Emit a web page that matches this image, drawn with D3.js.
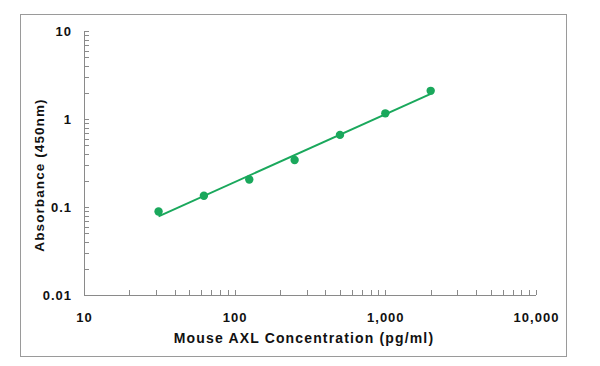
<!DOCTYPE html>
<html>
<head>
<meta charset="utf-8">
<script src="https://cdn.jsdelivr.net/npm/d3@7"></script>
<style>
  body { margin: 0; background: #fff; }
  text { font-family: Arial, "Liberation Sans", sans-serif; font-weight: bold; fill: #111; }
</style>
</head>
<body>
<div id="chart"></div>
<script>
// Standard curve data
const concentration = [31.25, 62.5, 125, 250, 500, 1000, 2000];
const absorbance = [0.089, 0.134, 0.205, 0.342, 0.66, 1.16, 2.09];
const xTicks = [10, 100, 1000, 10000];
const yTicks = [0.01, 0.1, 1, 10];

const W = 600, H = 366;
const green = "#1aa85c";

const svg = d3.select("#chart").append("svg")
  .attr("width", W).attr("height", H);

// outer frame
svg.append("rect")
  .attr("x", 20.5).attr("y", 14.5)
  .attr("width", 546).attr("height", 342)
  .attr("fill", "#fff").attr("stroke", "#9a9a9a").attr("stroke-width", 1);

const x = d3.scaleLog().domain([10, 10000]).range([84, 536]);
const y = d3.scaleLog().domain([0.01, 10]).range([295, 31]);

// minor + major tick values
const xMinor = [];
for (let d = 10; d < 10000; d *= 10) for (let k = 2; k <= 10; k++) xMinor.push(d * k);
const yMinor = [];
for (let d = 0.01; d < 10; d *= 10) for (let k = 2; k <= 10; k++) yMinor.push(+(d * k).toPrecision(3));

const axisColor = "#8a8a8a";

// x axis line and ticks (ticks point up into plot)
svg.append("line")
  .attr("x1", 84).attr("x2", 536).attr("y1", 295.5).attr("y2", 295.5)
  .attr("stroke", axisColor);
svg.append("g").selectAll("line").data(xMinor).join("line")
  .attr("x1", d => Math.round(x(d)) + 0.5).attr("x2", d => Math.round(x(d)) + 0.5)
  .attr("y1", 295).attr("y2", 290)
  .attr("stroke", axisColor);

// y axis line and ticks (ticks point right)
svg.append("line")
  .attr("x1", 84.5).attr("x2", 84.5).attr("y1", 31).attr("y2", 295.5)
  .attr("stroke", axisColor);
svg.append("g").selectAll("line").data(yMinor).join("line")
  .attr("x1", 84).attr("x2", 89)
  .attr("y1", d => Math.round(y(d)) + 0.5).attr("y2", d => Math.round(y(d)) + 0.5)
  .attr("stroke", axisColor);

// tick labels
const fmt = d3.format(",");
svg.append("g").selectAll("text").data(xTicks).join("text")
  .attr("x", d => x(d) + 0.5).attr("y", 322)
  .attr("text-anchor", "middle")
  .style("font-size", "13px").style("letter-spacing", "1px")
  .text(d => fmt(d));

svg.append("g").selectAll("text").data(yTicks).join("text")
  .attr("x", 72).attr("y", d => y(d) + 4.5)
  .attr("text-anchor", "end")
  .style("font-size", "13px").style("letter-spacing", "1px")
  .text(d => String(d));

// axis titles
svg.append("text")
  .attr("x", 304).attr("y", 343)
  .attr("text-anchor", "middle")
  .style("font-size", "14px").style("letter-spacing", "1.15px")
  .text("Mouse AXL Concentration (pg/ml)");

svg.append("text")
  .attr("transform", "translate(44,175) rotate(-90)")
  .attr("text-anchor", "middle")
  .style("font-size", "13.5px").style("letter-spacing", "1.1px")
  .text("Absorbance (450nm)");

// least squares fit in log-log space
const lx = concentration.map(Math.log10), ly = absorbance.map(Math.log10);
const mx = d3.mean(lx), my = d3.mean(ly);
const slope = d3.sum(lx, (v, i) => (v - mx) * (ly[i] - my)) / d3.sum(lx, v => (v - mx) ** 2);
const icpt = my - slope * mx;
const fitY = c => Math.pow(10, icpt + slope * Math.log10(c));
const ends = [concentration[0], concentration[concentration.length - 1]];

svg.append("path")
  .datum(ends)
  .attr("d", d3.line().x(d => x(d)).y(d => y(fitY(d))))
  .attr("fill", "none").attr("stroke", green).attr("stroke-width", 2);

svg.append("g").selectAll("circle").data(concentration).join("circle")
  .attr("cx", d => x(d)).attr("cy", (d, i) => y(absorbance[i]))
  .attr("r", 4.2).attr("fill", green);
</script>
</body>
</html>
